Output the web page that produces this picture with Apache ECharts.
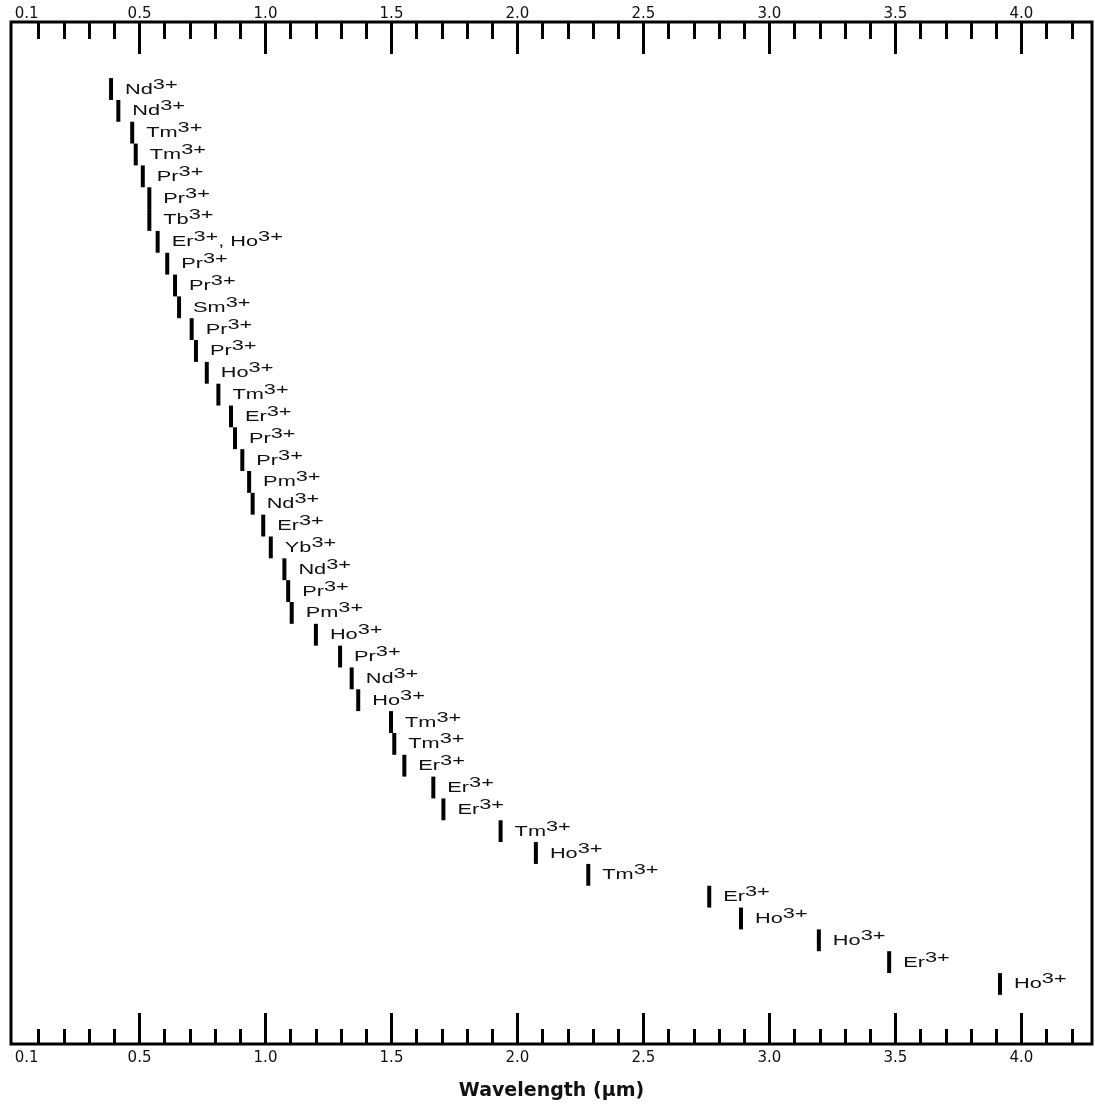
<!DOCTYPE html>
<html>
<head>
<meta charset="utf-8">
<script src="https://cdn.jsdelivr.net/npm/echarts@6/dist/echarts.min.js"></script>
<style>
html,body{margin:0;padding:0;background:#fff;}
#chart{width:1095px;height:1106px;}
</style>
</head>
<body>
<div id="chart"></div>
<script>
// Ion labels (top to bottom)
const ions = ['Nd3+','Nd3+','Tm3+','Tm3+','Pr3+','Pr3+','Tb3+','Er3+, Ho3+','Pr3+','Pr3+',
  'Sm3+','Pr3+','Pr3+','Ho3+','Tm3+','Er3+','Pr3+','Pr3+','Pm3+','Nd3+',
  'Er3+','Yb3+','Nd3+','Pr3+','Pm3+','Ho3+','Pr3+','Nd3+','Ho3+','Tm3+',
  'Tm3+','Er3+','Er3+','Er3+','Tm3+','Ho3+','Tm3+','Er3+','Ho3+','Ho3+',
  'Er3+','Ho3+'];
// Wavelengths in micrometres
const wavelengths = [0.387,0.416,0.471,0.485,0.513,0.539,0.539,0.572,0.610,0.641,
  0.657,0.707,0.724,0.767,0.813,0.863,0.879,0.908,0.935,0.949,
  0.991,1.021,1.075,1.090,1.104,1.200,1.296,1.342,1.368,1.498,
  1.511,1.551,1.666,1.706,1.933,2.073,2.281,2.761,2.887,3.196,
  3.475,3.915];
// Axis ticks / labels
const minorTicks = [0.1,0.2,0.3,0.4,0.6,0.7,0.8,0.9,1.1,1.2,1.3,1.4,1.6,1.7,1.8,1.9,
  2.1,2.2,2.3,2.4,2.6,2.7,2.8,2.9,3.1,3.2,3.3,3.4,3.6,3.7,3.8,3.9,4.1,4.2];
const majorTicks = [0.5,1.0,1.5,2.0,2.5,3.0,3.5,4.0];
const tickLabels = [0.1,0.5,1.0,1.5,2.0,2.5,3.0,3.5,4.0];

const data = wavelengths.map((w, i) => [w, i]);

const labelFont = 'DejaVu Sans';
const labelRich = {
  f: {fontFamily: labelFont, fontSize: 15, color: '#111'},
  l: {fontFamily: labelFont, fontSize: 15, color: '#111', padding: [0, 24, 0, 0]}
};
function fmt(v) {
  const s = Number(v).toFixed(1);
  return Math.abs(v - 0.1) < 1e-9 ? '{l|' + s + '}' : '{f|' + s + '}';
}
function baseAxis(pos) {
  return {
    type: 'value', position: pos, min: -0.01, max: 4.28,
    splitLine: {show: false},
    axisLine: {show: false, onZero: false}
  };
}
const xAxes = [
  Object.assign(baseAxis('bottom'), {
    name: 'Wavelength (\u03bcm)', nameLocation: 'middle', nameGap: 38,
    nameTextStyle: {fontFamily: 'DejaVu Sans', fontWeight: 'bold', fontSize: 19, color: '#111'},
    axisTick: {show: true, inside: true, length: 15, customValues: minorTicks,
      lineStyle: {color: '#000', width: 3}},
    axisLabel: {show: true, customValues: tickLabels, margin: 7, formatter: fmt, rich: labelRich}
  }),
  Object.assign(baseAxis('bottom'), {
    axisTick: {show: true, inside: true, length: 31, customValues: majorTicks,
      lineStyle: {color: '#000', width: 3}},
    axisLabel: {show: false}
  }),
  Object.assign(baseAxis('top'), {
    axisTick: {show: true, inside: true, length: 17, customValues: minorTicks,
      lineStyle: {color: '#000', width: 3}},
    axisLabel: {show: true, customValues: tickLabels, margin: 0, formatter: fmt, rich: labelRich}
  }),
  Object.assign(baseAxis('top'), {
    axisTick: {show: true, inside: true, length: 32, customValues: majorTicks,
      lineStyle: {color: '#000', width: 3}},
    axisLabel: {show: false}
  })
];

function richName(name) {
  return '{b|' + name.replace(/(\d\+)/g, '}{s|$1}{b|') + '}';
}

const chart = echarts.init(document.getElementById('chart'), null, {renderer: 'canvas'});
chart.setOption({
  backgroundColor: '#fff',
  animation: false,
  grid: {left: 11, right: 3, top: 22, bottom: 62, show: true, borderColor: '#000', borderWidth: 3, backgroundColor: 'transparent'},
  xAxis: xAxes,
  yAxis: {type: 'value', min: -3.07, max: 43.75, inverse: true, show: false},
  series: [{
    type: 'custom',
    xAxisIndex: 0,
    yAxisIndex: 0,
    data: data,
    clip: false,
    renderItem: function (params, api) {
      const pt = api.coord([api.value(0), api.value(1)]);
      const h = api.size([0, 1])[1];
      const w = 4;
      const name = ions[params.dataIndex];
      return {
        type: 'group',
        children: [
          {type: 'rect', shape: {x: pt[0] - w / 2, y: pt[1] - h / 2, width: w, height: h},
            style: {fill: '#000'}},
          {type: 'text', x: pt[0] + 14, y: pt[1] - 2, scaleX: 1.5,
            style: {
              text: richName(name),
              align: 'left', verticalAlign: 'middle',
              fill: '#111',
              font: '14.5px "Liberation Sans"',
              rich: {
                b: {font: '14.5px "Liberation Sans"', fontSize: 14.5, fill: '#111', verticalAlign: 'bottom'},
                s: {font: '14.5px "Liberation Sans"', fontSize: 14.5, fill: '#111', verticalAlign: 'bottom', padding: [0, 0, 5, 0]}
              }
            }}
        ]
      };
    }
  }]
});
</script>
</body>
</html>
